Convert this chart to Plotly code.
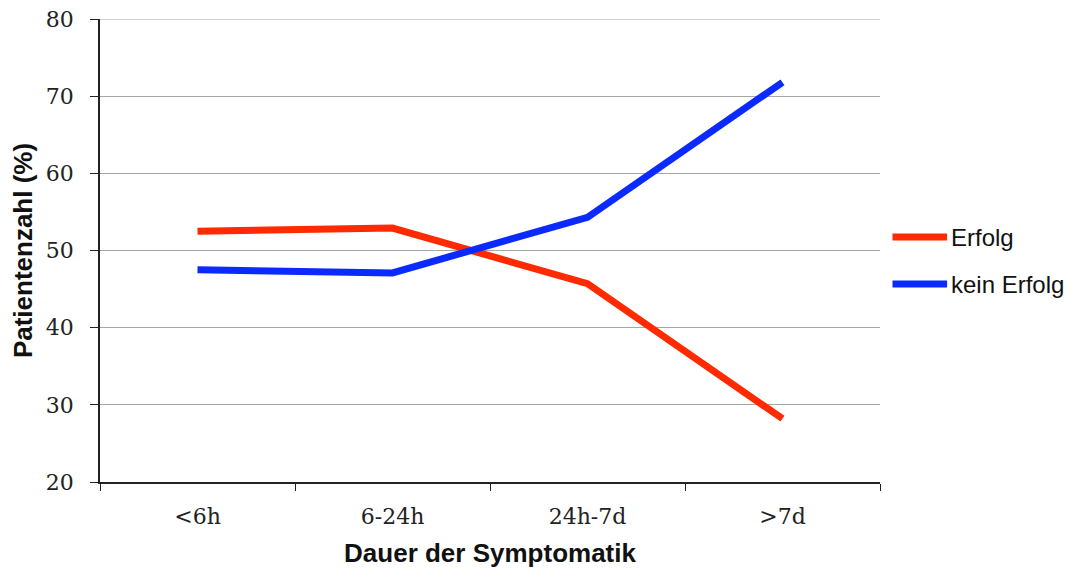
import plotly.graph_objects as go

categories = ["<6h", "6-24h", "24h-7d", ">7d"]
erfolg = [52.5, 52.9, 45.7, 28.2]
kein_erfolg = [47.5, 47.1, 54.3, 71.8]
y_ticks = [20, 30, 40, 50, 60, 70, 80]
series_names = ["Erfolg", "kein Erfolg"]
series_colors = ["#ff2a00", "#0a2aff"]

fig = go.Figure()
for name, vals, col in zip(series_names, [erfolg, kein_erfolg], series_colors):
    fig.add_trace(go.Scatter(x=categories, y=vals, mode="lines", name=name,
                             line=dict(color=col, width=7), showlegend=False))

# top gridline (plotly omits gridlines on the plot edge)
fig.add_shape(type="line", xref="paper", yref="y", x0=0, x1=1,
              y0=y_ticks[-1], y1=y_ticks[-1], layer="below",
              line=dict(color="#a6a6a6", width=1))

# manual legend (paper coordinates)
leg_y = [0.529, 0.4276]
for name, col, ly in zip(series_names, series_colors, leg_y):
    fig.add_shape(type="line", xref="paper", yref="paper",
                  x0=1.016, x1=1.086, y0=ly, y1=ly,
                  line=dict(color=col, width=7))
    fig.add_annotation(xref="paper", yref="paper", x=1.0885, y=ly,
                       xanchor="left", yanchor="middle", showarrow=False,
                       text=name,
                       font=dict(family="Liberation Sans, Arial", size=24, color="#111"))

fig.update_layout(
    width=1071, height=564,
    margin=dict(l=92, r=199, t=11, b=90),
    plot_bgcolor="white", paper_bgcolor="white",
    xaxis=dict(type="category", range=[-0.5, 3.5], tickson="boundaries",
               automargin=False,
               showline=True, linecolor="#222", linewidth=1.5,
               ticks="outside", ticklen=7, tickcolor="#222", tickwidth=1.2,
               showgrid=False, ticklabelstandoff=14, ticklabeloverflow="allow",
               tickfont=dict(family="DejaVu Serif", size=22, color="#222"),
               title=dict(text="<b>Dauer der Symptomatik</b>", standoff=16,
                          font=dict(family="Liberation Sans, Arial", size=26, color="#111"))),
    yaxis=dict(range=[20, 80], tickvals=y_ticks,
               automargin=False,
               showline=True, linecolor="#222", linewidth=1.5,
               ticks="outside", ticklen=8, tickcolor="#222", tickwidth=1.2,
               showgrid=True, gridcolor="#a6a6a6", gridwidth=1,
               zeroline=False, ticklabelstandoff=12, ticklabeloverflow="allow",
               tickfont=dict(family="DejaVu Serif", size=22, color="#222"),
               title=dict(text="<b>Patientenzahl (%)</b>", standoff=8,
                          font=dict(family="Liberation Sans, Arial", size=26, color="#111"))),
)

fig.write_html("out.html")
